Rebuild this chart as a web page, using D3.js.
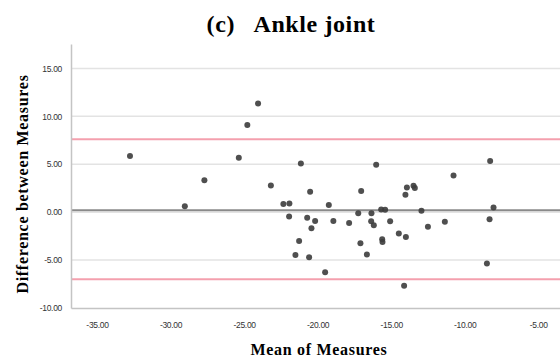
<!DOCTYPE html>
<html>
<head>
<meta charset="utf-8">
<script src="https://cdn.jsdelivr.net/npm/d3@7"></script>
<style>
  body { margin: 0; background: #fff; }
  svg { display: block; }
</style>
</head>
<body>
<div class="container"></div>
<script>
// Bland-Altman data (mean of measures, difference between measures)
const meanVals = [-24.05, -24.78, -32.76, -25.36, -21.14, -27.70, -23.18, -20.51, -29.03, -22.33,
  -21.92, -21.94, -20.71, -20.42, -21.26, -21.51, -20.58, -8.27, -16.02, -10.76,
  -17.04, -13.48, -13.93, -13.39, -14.03, -19.24, -8.04, -15.68, -15.41, -12.94,
  -17.24, -16.34, -20.17, -18.93, -17.86, -16.36, -16.18, -15.07, -8.31, -11.35,
  -12.50, -14.48, -14.00, -15.61, -15.59, -17.09, -16.65, -8.49, -19.49, -14.12];
const diffVals = [11.35, 9.11, 5.85, 5.67, 5.08, 3.34, 2.79, 2.12, 0.63, 0.84,
  0.91, -0.45, -0.59, -1.67, -3.00, -4.46, -4.70, 5.35, 4.94, 3.83,
  2.22, 2.75, 2.58, 2.51, 1.81, 0.76, 0.49, 0.28, 0.24, 0.14,
  -0.10, -0.10, -0.91, -0.91, -1.12, -0.94, -1.36, -0.94, -0.73, -1.01,
  -1.53, -2.22, -2.58, -2.82, -3.10, -3.24, -4.42, -5.35, -6.26, -7.69];

const xTicks = [-35, -30, -25, -20, -15, -10, -5];
const yTicks = [-10, -5, 0, 5, 10, 15];
const gridTicks = [-5, 0, 5, 10, 15];
const meanDiff = 0.2;
const limits = [7.6, -7.0];

const w = 560;
const h = 360;
const padL = 71, padT = 44, padB = 308;

const xScale = d3.scaleLinear()
       .domain([-36.77, -2.5])
       .range([padL, 575]);

const yScale = d3.scaleLinear()
       .domain([-10, 17.55])
       .range([padB, padT]);

const fmt = d => d.toFixed(2);

const svg = d3.select(".container")
       .append("svg")
       .attr("width", w)
       .attr("height", h);

// gridlines
svg.selectAll(".grid")
       .data(gridTicks)
       .enter()
       .append("line")
       .attr("x1", padL)
       .attr("x2", w)
       .attr("y1", d => yScale(d))
       .attr("y2", d => yScale(d))
       .attr("stroke", "#e3e3e3")
       .attr("stroke-width", 1.5);

// limits of agreement
svg.selectAll(".loa")
       .data(limits)
       .enter()
       .append("line")
       .attr("x1", padL)
       .attr("x2", w)
       .attr("y1", d => yScale(d))
       .attr("y2", d => yScale(d))
       .attr("stroke", "#f4a0ae")
       .attr("stroke-width", 2);

// mean difference
svg.append("line")
       .attr("x1", padL)
       .attr("x2", w)
       .attr("y1", yScale(meanDiff))
       .attr("y2", yScale(meanDiff))
       .attr("stroke", "#8a8a8a")
       .attr("stroke-width", 2);

// axes
const xAxis = d3.axisBottom(xScale).tickValues(xTicks).tickSize(0).tickPadding(14)
       .tickFormat(fmt);
svg.append("g")
       .attr("transform", `translate(0,${padB})`)
       .call(xAxis)
       .call(g => g.select(".domain").attr("stroke", "#c4c4c4").attr("stroke-width", 1.5))
       .call(g => g.selectAll("text").attr("font-family", "Liberation Sans").attr("font-size", 8.5)
              .attr("letter-spacing", -0.3).attr("fill", "#333"));

const yAxis = d3.axisLeft(yScale).tickValues(yTicks).tickSize(0).tickPadding(9)
       .tickFormat(fmt);
svg.append("g")
       .attr("transform", `translate(${padL},0)`)
       .call(yAxis)
       .call(g => g.select(".domain").attr("stroke", "#c4c4c4").attr("stroke-width", 1.5))
       .call(g => g.selectAll("text").attr("font-family", "Liberation Sans").attr("font-size", 8.5)
              .attr("letter-spacing", -0.3).attr("fill", "#333"));

// points
svg.selectAll(".pt")
       .data(meanVals.map((m, i) => [m, diffVals[i]]))
       .enter()
       .append("circle")
       .attr("cx", d => xScale(d[0]))
       .attr("cy", d => yScale(d[1]))
       .attr("r", 3)
       .attr("fill", "#3c3c3c")
       .attr("fill-opacity", 0.9);

// title
svg.append("text")
       .attr("x", 291)
       .attr("y", 32)
       .attr("text-anchor", "middle")
       .attr("font-family", "Liberation Serif")
       .attr("font-weight", "bold")
       .attr("font-size", 24)
       .attr("letter-spacing", 0.6)
       .attr("xml:space", "preserve")
       .text("(c)   Ankle joint");

// axis titles
svg.append("text")
       .attr("x", 319)
       .attr("y", 355)
       .attr("text-anchor", "middle")
       .attr("font-family", "Liberation Serif")
       .attr("font-weight", "bold")
       .attr("font-size", 16)
       .attr("letter-spacing", 0.7)
       .text("Mean of Measures");

svg.append("text")
       .attr("transform", "rotate(-90)")
       .attr("x", -184)
       .attr("y", 28)
       .attr("text-anchor", "middle")
       .attr("font-family", "Liberation Serif")
       .attr("font-weight", "bold")
       .attr("font-size", 16)
       .attr("letter-spacing", 0.7)
       .text("Difference between Measures");
</script>
</body>
</html>
